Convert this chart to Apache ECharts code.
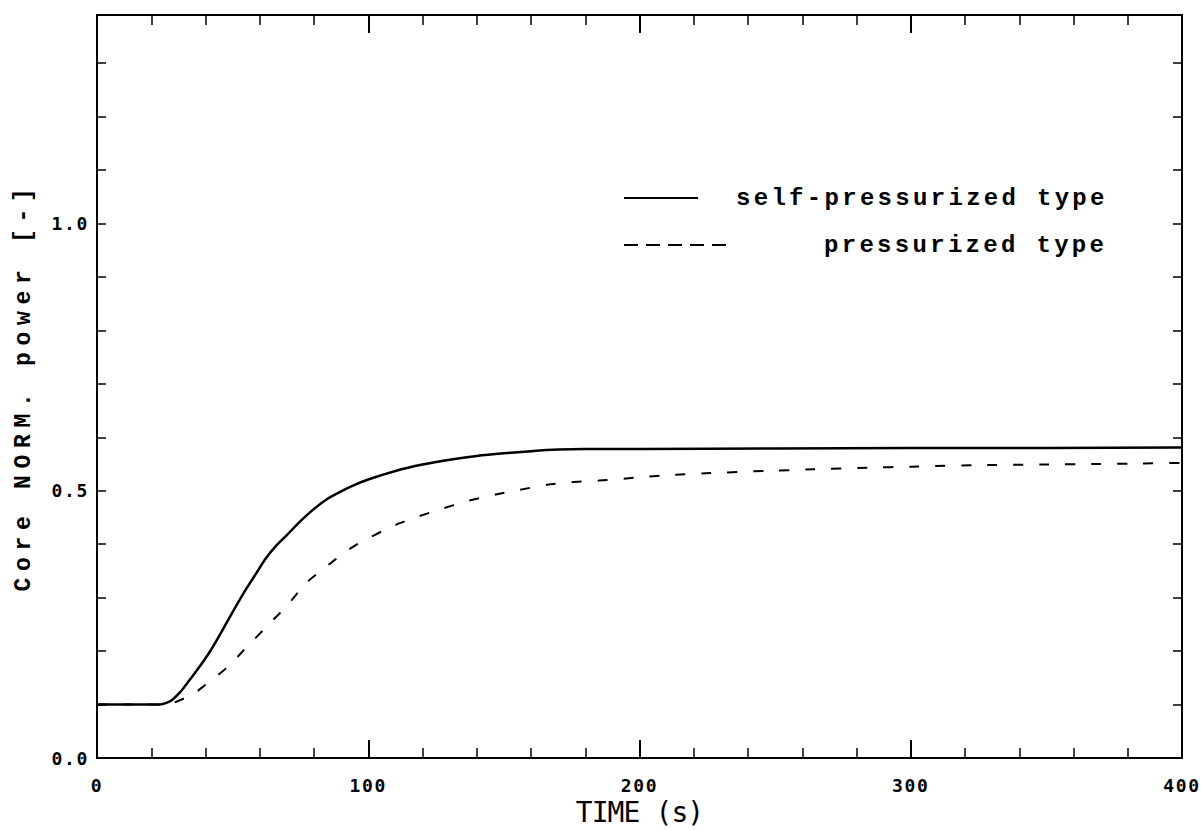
<!DOCTYPE html>
<html>
<head>
<meta charset="utf-8">
<title>Core NORM. power</title>
<script src="https://cdn.jsdelivr.net/npm/echarts@6/dist/echarts.min.js"></script>
<style>
  html, body { margin: 0; padding: 0; background: #fff; }
  #chart { width: 1201px; height: 830px; }
</style>
</head>
<body>
<div id="chart"></div>
<script>
// Time (s) and core normalized power [-]
const selfTime = [0, 10, 20, 23, 26, 28, 31, 34, 38, 42, 46, 50, 54, 58, 62, 66, 70, 75, 80, 85, 90, 95, 100, 110, 120, 130, 140, 150, 160, 170, 180, 200, 250, 300, 350, 400];
const selfPower = [0.100, 0.100, 0.100, 0.100, 0.104, 0.110, 0.125, 0.145, 0.172, 0.202, 0.237, 0.273, 0.308, 0.340, 0.372, 0.397, 0.417, 0.443, 0.466, 0.485, 0.499, 0.511, 0.521, 0.537, 0.549, 0.558, 0.565, 0.570, 0.574, 0.577, 0.578, 0.578, 0.579, 0.580, 0.580, 0.581];

const presTime = [0, 10, 20, 25, 28, 31, 34, 37, 40, 43, 46, 49, 52, 55, 58, 61, 64, 67, 70, 73, 77, 80, 84, 88, 91, 95, 100, 105, 110, 118, 127, 136, 147, 156, 166, 175, 185, 200, 210, 226, 246, 264, 284, 300, 326, 350, 368, 385, 400];
const presPower = [0.100, 0.100, 0.100, 0.100, 0.103, 0.109, 0.116, 0.125, 0.137, 0.149, 0.161, 0.174, 0.190, 0.207, 0.222, 0.238, 0.254, 0.269, 0.285, 0.303, 0.327, 0.340, 0.356, 0.372, 0.384, 0.397, 0.411, 0.424, 0.436, 0.451, 0.466, 0.480, 0.493, 0.502, 0.511, 0.516, 0.519, 0.525, 0.529, 0.533, 0.537, 0.540, 0.543, 0.545, 0.548, 0.549, 0.550, 0.551, 0.552];

const seriesNames = ['self-pressurized type', 'pressurized type'];
const xAxisTitle = 'TIME (s)';
const yAxisTitle = 'Core NORM. power [-]';
const yLabelValues = [0.0, 0.5, 1.0];

const zip = (xs, ys) => xs.map((x, i) => [x, ys[i]]);

const tickFont = 'DejaVu Sans Mono, monospace';
const legendFont = 'Liberation Mono, monospace';
const yNameFont = 'Liberation Mono, Courier, monospace';
const xNameFont = 'DejaVu Sans Mono, Courier, monospace';

const frameLine = { show: true, onZero: false, lineStyle: { color: '#000', width: 2 } };

function xAxisDef(pos, showLabel) {
  return {
    type: 'value', position: pos, min: 0, max: 400, interval: 100,
    axisLine: frameLine,
    axisTick: { show: true, inside: true, length: 18, lineStyle: { color: '#000', width: 2 } },
    minorTick: { show: true, splitNumber: 5, length: 10, lineStyle: { color: '#000', width: 1.5 } },
    splitLine: { show: false }, minorSplitLine: { show: false },
    axisLabel: {
      show: showLabel, margin: 18, color: '#000',
      fontFamily: tickFont, fontSize: 18, fontWeight: 'bold'
    },
    name: showLabel ? xAxisTitle : '',
    nameLocation: 'middle', nameGap: 38,
    nameTextStyle: { fontFamily: xNameFont, fontSize: 28, color: '#000' }
  };
}

function yAxisDef(pos, showLabel) {
  return {
    type: 'value', position: pos, min: 0, max: 1.39, interval: 0.1,
    axisLine: frameLine,
    axisTick: { show: true, inside: true, length: 9, lineStyle: { color: '#000', width: 1.5 } },
    splitLine: { show: false },
    axisLabel: {
      show: showLabel, margin: 8, color: '#000',
      fontFamily: tickFont, fontSize: 18, fontWeight: 'bold',
      formatter: v => yLabelValues.some(t => Math.abs(t - v) < 1e-6) ? v.toFixed(1) : ''
    },
    name: showLabel ? yAxisTitle : '',
    nameLocation: 'middle', nameGap: 62,
    nameTextStyle: { fontFamily: yNameFont, fontSize: 23, fontWeight: 'bold', color: '#000' }
  };
}

function legendDef(name, top, width, textPad, dash) {
  return {
    data: [name], left: 623, top: top, padding: 0,
    itemWidth: width, itemHeight: 20,
    selectedMode: false,
    itemStyle: { opacity: 0 },
    lineStyle: { color: '#000', width: 2, type: dash },
    textStyle: {
      fontFamily: legendFont, fontSize: 24, fontWeight: 'bold', color: '#000',
      padding: [0, 0, 0, textPad]
    }
  };
}

const chartEl = document.getElementById('chart');
const chart = echarts.init(chartEl, null, { renderer: 'svg' });

// plotter-style spaced lettering, chosen per font role
function spaceLetters() {
  chartEl.querySelectorAll('text').forEach(el => {
    const fam = getComputedStyle(el).fontFamily;
    let sp = 0;
    if (fam.includes('Liberation') && fam.includes('Courier')) sp = 6.7;
    else if (fam.includes('Liberation')) sp = 3.3;
    else if (fam.includes('DejaVu') && fam.includes('Courier')) sp = -0.9;
    else if (fam.includes('DejaVu')) sp = 1.7;
    el.setAttribute('letter-spacing', sp + 'px');
    el.style.letterSpacing = sp + 'px';
  });
}
chart.on('finished', spaceLetters);

chart.setOption({
  backgroundColor: '#fff',
  animation: false,
  grid: { left: 97, right: 19, top: 15, bottom: 72, containLabel: false, outerBoundsMode: 'none' },
  xAxis: [xAxisDef('bottom', true), xAxisDef('top', false)],
  yAxis: [yAxisDef('left', true), yAxisDef('right', false)],
  legend: [
    legendDef(seriesNames[0], 186, 74, 33, 'solid'),
    legendDef(seriesNames[1], 233, 105, 90, [14, 8])
  ],
  series: [
    {
      name: seriesNames[0], type: 'line', xAxisIndex: 0, yAxisIndex: 0,
      data: zip(selfTime, selfPower),
      symbol: 'none', smooth: 0.2,
      lineStyle: { color: '#000', width: 2.5 },
      itemStyle: { color: '#000' }
    },
    {
      name: seriesNames[1], type: 'line', xAxisIndex: 0, yAxisIndex: 0,
      data: zip(presTime, presPower),
      symbol: 'none', smooth: 0.2,
      lineStyle: { color: '#000', width: 2, type: [10, 16] },
      itemStyle: { color: '#000' }
    }
  ]
});
spaceLetters();
</script>
</body>
</html>
